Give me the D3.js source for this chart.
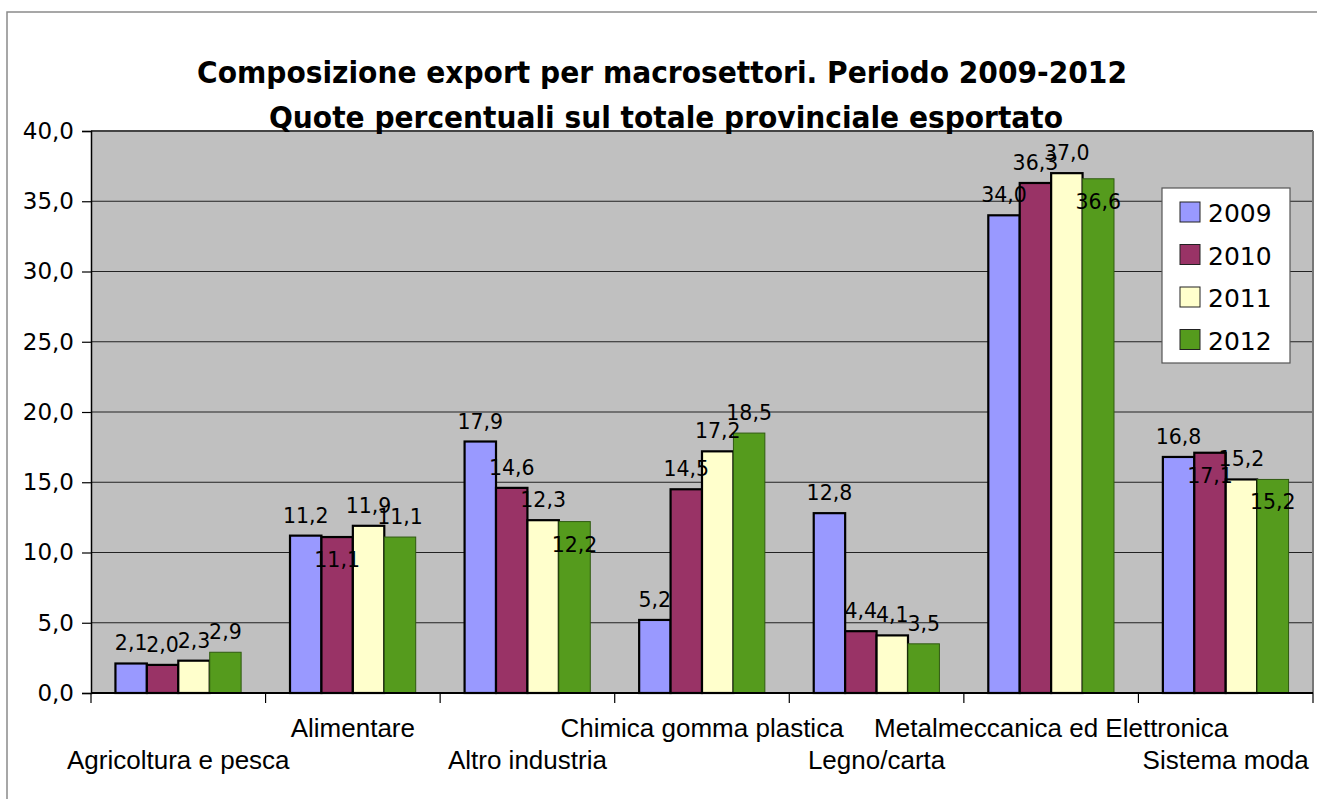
<!DOCTYPE html>
<html>
<head>
<meta charset="utf-8">
<script src="https://cdn.jsdelivr.net/npm/d3@7"></script>
<style>
  body { margin: 0; background: #fff; }
  svg { display: block; }
</style>
</head>
<body>
<script>
// dati
const categorie = ['Agricoltura e pesca', 'Alimentare', 'Altro industria', 'Chimica gomma plastica', 'Legno/carta', 'Metalmeccanica ed Elettronica', 'Sistema moda']
const anni = ['2009', '2010', '2011', '2012']
const val2009 = [2.1, 11.2, 17.9, 5.2, 12.8, 34.0, 16.8]
const val2010 = [2.0, 11.1, 14.6, 14.5, 4.4, 36.3, 17.1]
const val2011 = [2.3, 11.9, 12.3, 17.2, 4.1, 37.0, 15.2]
const val2012 = [2.9, 11.1, 12.2, 18.5, 3.5, 36.6, 15.2]
const yTicks = [0, 5, 10, 15, 20, 25, 30, 35, 40]
// etichette che Excel ha spostato dentro la barra (categoria|anno)
const labelDentro = ['Alimentare|2010', 'Altro industria|2012', 'Metalmeccanica ed Elettronica|2012', 'Sistema moda|2010', 'Sistema moda|2012']

const colori = { '2009': '#9999FF', '2010': '#993366', '2011': '#FFFFCC', '2012': '#559B1D' }
const serie = { '2009': val2009, '2010': val2010, '2011': val2011, '2012': val2012 }

const W = 1317, H = 799
const margin = { t: 131, r: 4, b: 106, l: 91 }
const width = W - margin.l - margin.r
const height = H - margin.t - margin.b

const fmt = v => d3.format('.1f')(v).replace('.', ',')

const svg = d3.select('body').append('svg').attr('width', W).attr('height', H)

// cornice esterna
svg.append('rect')
  .attr('x', 7).attr('y', 12).attr('width', W + 10).attr('height', H + 10)
  .attr('fill', '#fff').attr('stroke', '#8a8a8a').attr('stroke-width', 1.5)

const g = svg.append('g').attr('transform', `translate(${margin.l},${margin.t})`)

const x = d3.scaleBand().domain(categorie).range([0, width]).paddingInner(0).paddingOuter(0)
const x1 = d3.scaleBand().domain(anni).range([x.bandwidth() * 0.14, x.bandwidth() * 0.86])
const y = d3.scaleLinear().domain([0, 40]).range([height, 0])

// sfondo area del grafico
g.append('rect')
  .attr('width', width).attr('height', height)
  .attr('fill', '#C0C0C0')

// griglia
g.selectAll('line.grid')
  .data(yTicks.filter(d => d > 0))
  .join('line')
    .attr('class', 'grid')
    .attr('x1', 0).attr('x2', width)
    .attr('y1', d => y(d)).attr('y2', d => y(d))
    .attr('stroke', d => d === 40 ? '#444' : '#222')
    .attr('stroke-width', d => d === 40 ? 2 : 1)

// bordo destro
g.append('line')
  .attr('x1', width).attr('x2', width).attr('y1', 0).attr('y2', height)
  .attr('stroke', '#777').attr('stroke-width', 2)

// barre
const righe = []
categorie.forEach((c, i) => anni.forEach(a => righe.push({ cat: c, anno: a, v: serie[a][i] })))

g.selectAll('rect.bar')
  .data(righe)
  .join('rect')
    .attr('class', 'bar')
    .attr('x', d => x(d.cat) + x1(d.anno))
    .attr('y', d => y(d.v))
    .attr('width', x1.bandwidth())
    .attr('height', d => height - y(d.v))
    .attr('fill', d => colori[d.anno])
    .attr('stroke', d => d.anno === '2012' ? '#2f5a10' : '#000')
    .attr('stroke-width', d => d.anno === '2012' ? 1 : 2.2)

// etichette dei valori
g.selectAll('text.val')
  .data(righe)
  .join('text')
    .attr('class', 'val')
    .attr('x', d => x(d.cat) + x1(d.anno) + x1.bandwidth() / 2)
    .attr('y', d => labelDentro.includes(d.cat + '|' + d.anno) ? y(d.v) + 30 : y(d.v) - 13)
    .attr('text-anchor', 'middle')
    .style('font-family', 'DejaVu Sans')
    .style('font-size', '20.5px')
    .attr('fill', '#000')
    .text(d => fmt(d.v))

// asse y
const yAxis = g.append('g')
  .call(d3.axisLeft(y).tickValues(yTicks).tickSize(9).tickPadding(8).tickFormat(fmt))
yAxis.select('.domain').attr('stroke', '#000').attr('stroke-width', 1.5)
yAxis.selectAll('.tick line').attr('stroke', '#000').attr('stroke-width', 1.2)
yAxis.selectAll('text')
  .style('font-family', 'DejaVu Sans')
  .style('font-size', '23px')
  .attr('fill', '#000')

// asse x
const xAxisG = g.append('g').attr('transform', `translate(0,${height})`)
xAxisG.append('line')
  .attr('x1', 0).attr('x2', width)
  .attr('stroke', '#000').attr('stroke-width', 2)
xAxisG.selectAll('line.tick')
  .data(d3.range(categorie.length + 1))
  .join('line')
    .attr('class', 'tick')
    .attr('x1', i => i * x.step()).attr('x2', i => i * x.step())
    .attr('y1', 0).attr('y2', 10)
    .attr('stroke', '#000').attr('stroke-width', 1.2)
xAxisG.selectAll('text')
  .data(categorie)
  .join('text')
    .attr('x', d => x(d) + x.bandwidth() / 2)
    .attr('y', (d, i) => i % 2 === 0 ? 76 : 44)
    .attr('text-anchor', 'middle')
    .style('font-family', 'Liberation Sans')
    .style('font-size', '26px')
    .attr('fill', '#000')
    .text(d => d)

// titolo
const titolo = svg.append('g')
  .style('font-family', 'DejaVu Sans Condensed')
  .style('font-weight', 'bold')
  .style('font-size', '31px')
titolo.append('text')
  .attr('x', 197).attr('y', 83)
  .attr('textLength', 930).attr('lengthAdjust', 'spacingAndGlyphs')
  .text('Composizione export per macrosettori. Periodo 2009-2012')
titolo.append('text')
  .attr('x', 269).attr('y', 128)
  .attr('textLength', 794).attr('lengthAdjust', 'spacingAndGlyphs')
  .text('Quote percentuali sul totale provinciale esportato')

// legenda
const leg = svg.append('g').attr('transform', 'translate(1162,188)')
leg.append('rect')
  .attr('width', 128).attr('height', 175)
  .attr('fill', '#fff').attr('stroke', '#555').attr('stroke-width', 1.2)
const voce = leg.selectAll('g.voce')
  .data(anni)
  .join('g')
    .attr('class', 'voce')
    .attr('transform', (d, i) => `translate(18,${24 + i * 42.5})`)
voce.append('rect')
  .attr('x', 0).attr('y', -10).attr('width', 20).attr('height', 20)
  .attr('fill', d => colori[d]).attr('stroke', '#222').attr('stroke-width', 1)
voce.append('text')
  .attr('x', 28).attr('y', 10)
  .style('font-family', 'DejaVu Sans')
  .style('font-size', '25px')
  .text(d => d)
</script>
</body>
</html>
